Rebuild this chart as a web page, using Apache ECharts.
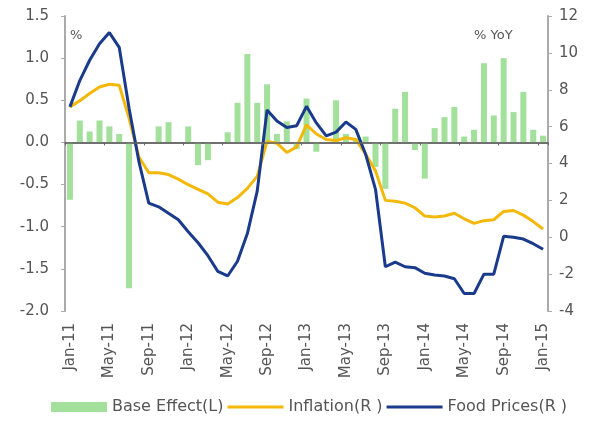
<!DOCTYPE html>
<html><head><meta charset="utf-8">
<script src="https://cdn.jsdelivr.net/npm/echarts@6/dist/echarts.min.js"></script>
<style>html,body{margin:0;padding:0;background:#fff}#c{width:591px;height:423px}</style>
</head><body><div id="c"></div>
<script>
const months = ['Jan','Feb','Mar','Apr','May','Jun','Jul','Aug','Sep','Oct','Nov','Dec'];
const categories = [];
for (let y = 11; y <= 15; y++) for (let m = 0; m < 12; m++) { if (y === 15 && m > 0) break; categories.push(months[m] + '-' + y); }

const baseEffect = [-0.68,0.26,0.13,0.26,0.19,0.1,-1.73,0,0,0.19,0.24,0,
  0.19,-0.27,-0.21,0,0.12,0.47,1.05,0.47,0.69,0.1,0.25,-0.08,
  0.52,-0.11,0,0.5,0.1,0.05,0.07,-0.29,-0.55,0.4,0.6,-0.09,
  -0.43,0.17,0.3,0.42,0.07,0.15,0.94,0.32,1.0,0.36,0.6,0.15,0.08];
const inflation = [7.07,7.4,7.8,8.15,8.3,8.25,6.45,4.35,3.5,3.5,3.4,3.15,
  2.85,2.6,2.35,1.9,1.8,2.15,2.65,3.3,5.2,5.1,4.6,4.9,
  6.1,5.6,5.3,5.25,5.4,5.3,4.5,3.6,2.0,1.95,1.85,1.6,
  1.15,1.1,1.15,1.3,1.0,0.75,0.9,0.95,1.4,1.45,1.2,0.85,0.45];
const foodPrices = [7.07,8.5,9.6,10.5,11.1,10.3,7.0,4.1,1.85,1.65,1.3,0.95,
  0.3,-0.3,-1.0,-1.85,-2.1,-1.3,0.2,2.5,6.9,6.3,5.95,6.05,
  7.1,6.2,5.5,5.7,6.25,5.85,4.5,2.6,-1.6,-1.35,-1.6,-1.65,
  -1.95,-2.05,-2.1,-2.25,-3.05,-3.05,-2.0,-2.0,0.05,0.0,-0.1,-0.35,-0.65];

const FONT = 'DejaVu Sans';
const YELLOW = '#f4b80a', NAVY = '#1a3a8c', GREEN = '#a2e09c';
const LINE_ICON = 'path://M0,0 L60,0 L60,3 L0,3 Z';
const chart = echarts.init(document.getElementById('c'));
chart.setOption({
  animation: false,
  textStyle: { fontFamily: FONT },
  grid: { left: 65, right: 43, top: 16, bottom: 112 },
  legend: {
    bottom: 3, left: 46, itemWidth: 56, itemHeight: 10, itemGap: 4,
    symbolKeepAspect: true,
    textStyle: { fontFamily: FONT, fontSize: 16, color: '#555' },
    data: [
      { name: 'Base Effect(L)', icon: 'rect' },
      { name: 'Inflation(R )', icon: LINE_ICON },
      { name: 'Food Prices(R )', icon: LINE_ICON }
    ]
  },
  xAxis: [{
    type: 'category', data: categories, position: 'bottom',
    axisLine: { show: true, onZero: true, onZeroAxisIndex: 0, lineStyle: { color: '#666', width: 1.5 } },
    axisTick: { show: true, interval: 3, length: 3, lineStyle: { color: '#666' } },
    axisLabel: { show: false }, z: 5
  }, {
    type: 'category', data: categories, position: 'bottom',
    axisLine: { show: false, onZero: false }, axisTick: { show: false },
    axisLabel: { interval: 3, rotate: 90, margin: 12, fontSize: 15, color: '#555', fontFamily: FONT }
  }],
  yAxis: [{
    type: 'value', min: -2, max: 1.5, interval: 0.5, position: 'left',
    axisLine: { show: true, onZero: false, lineStyle: { color: '#aaa', width: 2 } },
    axisTick: { show: true, length: 4, lineStyle: { color: '#aaa' } },
    splitLine: { show: false },
    axisLabel: { formatter: v => v.toFixed(1), fontSize: 15, color: '#555', margin: 16, fontFamily: FONT }
  }, {
    type: 'value', min: -4, max: 12, interval: 2, position: 'right',
    axisLine: { show: true, onZero: false, lineStyle: { color: '#aaa', width: 2 } },
    axisTick: { show: true, length: 4, lineStyle: { color: '#aaa' } },
    splitLine: { show: false },
    axisLabel: { fontSize: 15, color: '#555', margin: 11, fontFamily: FONT }
  }],
  series: [{
    name: 'Base Effect(L)', type: 'bar', xAxisIndex: 0, yAxisIndex: 0,
    data: baseEffect, barWidth: 6, itemStyle: { color: GREEN },
    markLine: {
      silent: true, symbol: ['none', 'none'], label: { show: false }, z: 1,
      lineStyle: { color: '#666', width: 1.5, type: 'solid' },
      data: [{ yAxis: 0 }]
    }
  }, {
    name: 'Inflation(R )', type: 'line', xAxisIndex: 0, yAxisIndex: 1,
    data: inflation, symbol: 'none', lineStyle: { color: YELLOW, width: 3 }, itemStyle: { color: YELLOW }
  }, {
    name: 'Food Prices(R )', type: 'line', xAxisIndex: 0, yAxisIndex: 1,
    data: foodPrices, symbol: 'none', lineStyle: { color: NAVY, width: 3 }, itemStyle: { color: NAVY }
  }],
  graphic: [
    { type: 'text', left: 70, top: 29, style: { text: '%', font: '13px "DejaVu Sans"', fill: '#555' } },
    { type: 'text', left: 474, top: 29, style: { text: '% YoY', font: '13px "DejaVu Sans"', fill: '#555' } }
  ]
});
</script></body></html>
